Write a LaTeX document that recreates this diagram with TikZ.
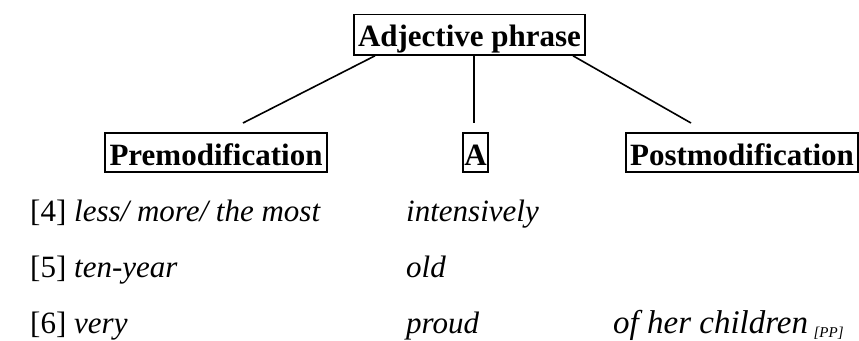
\documentclass[tikz,border=0pt]{standalone}
\usepackage{fontspec}
\setmainfont{Liberation Serif}
\begin{document}
\begin{tikzpicture}[x=1pt,y=-1pt,
  head/.style={draw, line width=1.6pt, anchor=base, inner xsep=0pt, inner ysep=0pt,
    text height=32pt, text depth=7pt, font=\fontsize{31}{36}\selectfont\bfseries},
  branch/.style={line width=1.6pt},
  num/.style={anchor=base west, inner sep=0pt, font=\fontsize{31}{36}\selectfont},
  ex/.style={anchor=base west, inner sep=0pt, font=\fontsize{31}{36}\selectfont\itshape}]
\useasboundingbox (0,0) rectangle (859,340);

% phrase node and its three constituents
\node[head, minimum width=231pt, text depth=8.5pt] (ap) at (469.5,46.5) {Adjective phrase};
\node[head, minimum width=222pt] (pre)  at (216,165)   {Premodification};
\node[head, minimum width=25pt]  (a)    at (475.5,165) {A};
\node[head, minimum width=232pt] (post) at (742,165)   {Postmodification};

% branch ends above the constituents
\coordinate (bl) at (243,123);
\coordinate (bm) at (474,123);
\coordinate (br) at (691,123);
\draw[branch] ([xshift=-94.5pt]ap.south) -- (bl);
\draw[branch] ([xshift=4.5pt]ap.south)   -- (bm);
\draw[branch] ([xshift=103.5pt]ap.south) -- (br);

% examples
\node[num] (n4) at (30,221) {[4]};
\node[ex]  (p4) at (74,221) {less/ more/ the most};
\node[ex]  (h4) at (406,221) {intensively};
\node[num] (n5) at (30,277) {[5]};
\node[ex]  (p5) at (74,277) {ten-year};
\node[ex]  (h5) at (406,277) {old};
\node[num] (n6) at (30,333) {[6]};
\node[ex]  (p6) at (74,333) {very};
\node[ex]  (h6) at (406,333) {proud};
\node[ex, font=\fontsize{33}{38}\selectfont\itshape] (q6) at (613,333)
  {of her children\,\raisebox{-4pt}{\fontsize{15}{17}\selectfont [PP]}};
\end{tikzpicture}
\end{document}
